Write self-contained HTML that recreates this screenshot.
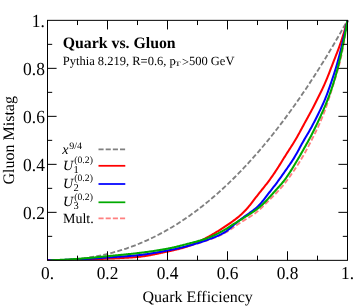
<!DOCTYPE html>
<html><head><meta charset="utf-8"><title>Quark vs. Gluon</title>
<style>
html,body{margin:0;padding:0;background:#fff;}
body{width:354px;height:306px;overflow:hidden;}
svg{display:block;font-family:"Liberation Serif",serif;text-rendering:geometricPrecision;will-change:transform;}
</style></head><body>
<svg width="354" height="306" viewBox="0 0 354 306">
<rect width="354" height="306" fill="#fff"/>
<clipPath id="c"><rect x="46.3" y="18.85" width="302.4" height="241.50"/></clipPath>
<g fill="none" stroke-linejoin="round" clip-path="url(#c)">
<path d="M47.50 260.35 L48.25 260.33 L49.00 260.32 L49.75 260.30 L50.50 260.28 L51.25 260.26 L52.00 260.24 L52.75 260.23 L53.50 260.21 L54.25 260.19 L55.00 260.17 L55.75 260.15 L56.50 260.13 L57.25 260.10 L58.00 260.08 L58.75 260.06 L59.50 260.04 L60.25 260.01 L61.00 259.99 L61.75 259.97 L62.50 259.94 L63.25 259.92 L64.00 259.89 L64.75 259.87 L65.50 259.84 L66.25 259.82 L67.00 259.79 L67.75 259.76 L68.50 259.74 L69.25 259.71 L70.00 259.68 L70.75 259.65 L71.50 259.62 L72.25 259.59 L73.00 259.57 L73.75 259.54 L74.50 259.51 L75.25 259.48 L76.00 259.45 L76.75 259.42 L77.50 259.38 L78.25 259.35 L79.00 259.32 L79.75 259.29 L80.50 259.25 L81.25 259.22 L82.00 259.18 L82.75 259.15 L83.50 259.11 L84.25 259.07 L85.00 259.04 L85.75 259.00 L86.50 258.96 L87.25 258.92 L88.00 258.88 L88.75 258.84 L89.50 258.80 L90.25 258.76 L91.00 258.71 L91.75 258.67 L92.50 258.63 L93.25 258.59 L94.00 258.54 L94.75 258.50 L95.50 258.45 L96.25 258.41 L97.00 258.36 L97.75 258.32 L98.50 258.27 L99.25 258.23 L100.00 258.18 L100.75 258.13 L101.50 258.09 L102.25 258.04 L103.00 257.99 L103.75 257.95 L104.50 257.90 L105.25 257.85 L106.00 257.80 L106.75 257.76 L107.50 257.71 L108.25 257.66 L109.00 257.62 L109.75 257.57 L110.50 257.52 L111.25 257.48 L112.00 257.43 L112.75 257.38 L113.50 257.34 L114.25 257.29 L115.00 257.24 L115.75 257.20 L116.50 257.15 L117.25 257.10 L118.00 257.05 L118.75 257.01 L119.50 256.96 L120.25 256.91 L121.00 256.86 L121.75 256.81 L122.50 256.76 L123.25 256.71 L124.00 256.65 L124.75 256.60 L125.50 256.55 L126.25 256.49 L127.00 256.44 L127.75 256.38 L128.50 256.32 L129.25 256.26 L130.00 256.20 L130.75 256.14 L131.50 256.08 L132.25 256.02 L133.00 255.95 L133.75 255.88 L134.50 255.82 L135.25 255.75 L136.00 255.67 L136.75 255.60 L137.50 255.52 L138.25 255.44 L139.00 255.36 L139.75 255.28 L140.50 255.19 L141.25 255.10 L142.00 255.01 L142.75 254.92 L143.50 254.82 L144.25 254.72 L145.00 254.62 L145.75 254.51 L146.50 254.40 L147.25 254.29 L148.00 254.18 L148.75 254.07 L149.50 253.95 L150.25 253.83 L151.00 253.71 L151.75 253.59 L152.50 253.46 L153.25 253.34 L154.00 253.21 L154.75 253.08 L155.50 252.95 L156.25 252.82 L157.00 252.69 L157.75 252.55 L158.50 252.42 L159.25 252.28 L160.00 252.14 L160.75 252.01 L161.50 251.87 L162.25 251.73 L163.00 251.59 L163.75 251.45 L164.50 251.31 L165.25 251.17 L166.00 251.03 L166.75 250.88 L167.50 250.74 L168.25 250.59 L169.00 250.45 L169.75 250.30 L170.50 250.15 L171.25 250.00 L172.00 249.85 L172.75 249.69 L173.50 249.54 L174.25 249.38 L175.00 249.22 L175.75 249.06 L176.50 248.89 L177.25 248.73 L178.00 248.56 L178.75 248.39 L179.50 248.22 L180.25 248.05 L181.00 247.87 L181.75 247.70 L182.50 247.52 L183.25 247.34 L184.00 247.16 L184.75 246.97 L185.50 246.79 L186.25 246.60 L187.00 246.41 L187.75 246.22 L188.50 246.02 L189.25 245.83 L190.00 245.63 L190.75 245.43 L191.50 245.23 L192.25 245.02 L193.00 244.82 L193.75 244.61 L194.50 244.40 L195.25 244.18 L196.00 243.97 L196.75 243.75 L197.50 243.53 L198.25 243.30 L199.00 243.07 L199.75 242.84 L200.50 242.61 L201.25 242.38 L202.00 242.14 L202.75 241.89 L203.50 241.65 L204.25 241.40 L205.00 241.15 L205.75 240.90 L206.50 240.64 L207.25 240.38 L208.00 240.12 L208.75 239.85 L209.50 239.58 L210.25 239.31 L211.00 239.04 L211.75 238.76 L212.50 238.48 L213.25 238.19 L214.00 237.90 L214.75 237.61 L215.50 237.31 L216.25 237.00 L217.00 236.69 L217.75 236.38 L218.50 236.05 L219.25 235.72 L220.00 235.39 L220.75 235.04 L221.50 234.69 L222.25 234.32 L223.00 233.95 L223.75 233.56 L224.50 233.16 L225.25 232.75 L226.00 232.32 L226.75 231.88 L227.50 231.42 L228.25 230.95 L229.00 230.46 L229.75 229.96 L230.50 229.46 L231.25 228.94 L232.00 228.42 L232.75 227.89 L233.50 227.37 L234.25 226.84 L235.00 226.32 L235.75 225.80 L236.50 225.28 L237.25 224.77 L238.00 224.26 L238.75 223.76 L239.50 223.27 L240.25 222.78 L241.00 222.29 L241.75 221.81 L242.50 221.34 L243.25 220.87 L244.00 220.40 L244.75 219.94 L245.50 219.49 L246.25 219.03 L247.00 218.58 L247.75 218.13 L248.50 217.68 L249.25 217.22 L250.00 216.76 L250.75 216.30 L251.50 215.82 L252.25 215.33 L253.00 214.83 L253.75 214.31 L254.50 213.77 L255.25 213.21 L256.00 212.62 L256.75 212.02 L257.50 211.40 L258.25 210.75 L259.00 210.09 L259.75 209.41 L260.50 208.71 L261.25 208.00 L262.00 207.28 L262.75 206.55 L263.50 205.81 L264.25 205.06 L265.00 204.30 L265.75 203.54 L266.50 202.78 L267.25 202.02 L268.00 201.26 L268.75 200.50 L269.50 199.74 L270.25 198.99 L271.00 198.24 L271.75 197.50 L272.50 196.76 L273.25 196.02 L274.00 195.27 L274.75 194.52 L275.50 193.77 L276.25 193.01 L277.00 192.24 L277.75 191.45 L278.50 190.66 L279.25 189.85 L280.00 189.02 L280.75 188.18 L281.50 187.32 L282.25 186.45 L283.00 185.55 L283.75 184.64 L284.50 183.71 L285.25 182.76 L286.00 181.79 L286.75 180.80 L287.50 179.80 L288.25 178.78 L289.00 177.75 L289.75 176.70 L290.50 175.64 L291.25 174.57 L292.00 173.48 L292.75 172.39 L293.50 171.28 L294.25 170.15 L295.00 169.02 L295.75 167.88 L296.50 166.72 L297.25 165.56 L298.00 164.38 L298.75 163.20 L299.50 162.00 L300.25 160.80 L301.00 159.57 L301.75 158.33 L302.50 157.08 L303.25 155.80 L304.00 154.49 L304.75 153.16 L305.50 151.81 L306.25 150.42 L307.00 149.02 L307.75 147.59 L308.50 146.14 L309.25 144.68 L310.00 143.21 L310.75 141.73 L311.50 140.24 L312.25 138.76 L313.00 137.27 L313.75 135.77 L314.50 134.28 L315.25 132.77 L316.00 131.25 L316.75 129.70 L317.50 128.13 L318.25 126.52 L319.00 124.87 L319.75 123.18 L320.50 121.45 L321.25 119.67 L322.00 117.84 L322.75 115.97 L323.50 114.04 L324.25 112.07 L325.00 110.06 L325.75 107.99 L326.50 105.87 L327.25 103.70 L328.00 101.49 L328.75 99.22 L329.50 96.91 L330.25 94.57 L331.00 92.19 L331.75 89.79 L332.50 87.38 L333.25 84.96 L334.00 82.54 L334.75 80.12 L335.50 77.69 L336.25 75.24 L337.00 72.75 L337.75 70.20 L338.50 67.55 L339.25 64.76 L340.00 61.81 L340.75 58.66 L341.50 55.29 L342.25 51.67 L343.00 47.80 L343.75 43.69 L344.50 39.34 L345.25 34.79 L346.00 30.07 L346.75 25.24 L347.50 20.35" stroke="#ff8080" stroke-width="1.85" stroke-dasharray="5 2.2"/>
<path d="M47.50 260.35 L49.00 260.35 L50.50 260.34 L52.00 260.33 L53.50 260.31 L55.00 260.29 L56.50 260.26 L58.00 260.22 L59.50 260.18 L61.00 260.13 L62.50 260.07 L64.00 260.00 L65.50 259.92 L67.00 259.84 L68.50 259.75 L70.00 259.64 L71.50 259.53 L73.00 259.41 L74.50 259.29 L76.00 259.15 L77.50 259.00 L79.00 258.84 L80.50 258.68 L82.00 258.50 L83.50 258.32 L85.00 258.12 L86.50 257.91 L88.00 257.70 L89.50 257.47 L91.00 257.24 L92.50 256.99 L94.00 256.73 L95.50 256.46 L97.00 256.19 L98.50 255.90 L100.00 255.60 L101.50 255.29 L103.00 254.96 L104.50 254.63 L106.00 254.29 L107.50 253.93 L109.00 253.56 L110.50 253.19 L112.00 252.80 L113.50 252.39 L115.00 251.98 L116.50 251.56 L118.00 251.12 L119.50 250.67 L121.00 250.21 L122.50 249.74 L124.00 249.26 L125.50 248.76 L127.00 248.26 L128.50 247.74 L130.00 247.21 L131.50 246.66 L133.00 246.11 L134.50 245.54 L136.00 244.96 L137.50 244.36 L139.00 243.76 L140.50 243.14 L142.00 242.51 L143.50 241.87 L145.00 241.21 L146.50 240.54 L148.00 239.86 L149.50 239.16 L151.00 238.46 L152.50 237.74 L154.00 237.00 L155.50 236.26 L157.00 235.50 L158.50 234.72 L160.00 233.94 L161.50 233.14 L163.00 232.33 L164.50 231.50 L166.00 230.66 L167.50 229.81 L169.00 228.95 L170.50 228.07 L172.00 227.17 L173.50 226.27 L175.00 225.35 L176.50 224.42 L178.00 223.47 L179.50 222.51 L181.00 221.53 L182.50 220.54 L184.00 219.54 L185.50 218.53 L187.00 217.50 L188.50 216.45 L190.00 215.40 L191.50 214.32 L193.00 213.24 L194.50 212.14 L196.00 211.02 L197.50 209.90 L199.00 208.75 L200.50 207.60 L202.00 206.43 L203.50 205.24 L205.00 204.04 L206.50 202.83 L208.00 201.60 L209.50 200.36 L211.00 199.10 L212.50 197.83 L214.00 196.54 L215.50 195.24 L217.00 193.93 L218.50 192.60 L220.00 191.25 L221.50 189.89 L223.00 188.52 L224.50 187.13 L226.00 185.73 L227.50 184.31 L229.00 182.88 L230.50 181.43 L232.00 179.96 L233.50 178.49 L235.00 176.99 L236.50 175.49 L238.00 173.96 L239.50 172.42 L241.00 170.87 L242.50 169.30 L244.00 167.72 L245.50 166.12 L247.00 164.51 L248.50 162.88 L250.00 161.23 L251.50 159.57 L253.00 157.90 L254.50 156.21 L256.00 154.50 L257.50 152.78 L259.00 151.05 L260.50 149.29 L262.00 147.53 L263.50 145.74 L265.00 143.94 L266.50 142.13 L268.00 140.30 L269.50 138.46 L271.00 136.59 L272.50 134.72 L274.00 132.83 L275.50 130.92 L277.00 128.99 L278.50 127.05 L280.00 125.10 L281.50 123.13 L283.00 121.14 L284.50 119.14 L286.00 117.12 L287.50 115.08 L289.00 113.03 L290.50 110.97 L292.00 108.88 L293.50 106.78 L295.00 104.67 L296.50 102.54 L298.00 100.39 L299.50 98.23 L301.00 96.05 L302.50 93.85 L304.00 91.64 L305.50 89.41 L307.00 87.17 L308.50 84.91 L310.00 82.63 L311.50 80.34 L313.00 78.03 L314.50 75.70 L316.00 73.36 L317.50 71.00 L319.00 68.63 L320.50 66.24 L322.00 63.83 L323.50 61.40 L325.00 58.96 L326.50 56.51 L328.00 54.03 L329.50 51.54 L331.00 49.03 L332.50 46.51 L334.00 43.97 L335.50 41.41 L337.00 38.84 L338.50 36.25 L340.00 33.64 L341.50 31.02 L343.00 28.37 L344.50 25.72 L346.00 23.04 L347.50 20.35" stroke="#808080" stroke-width="1.85" stroke-dasharray="5 2.23" stroke-dashoffset="1.68"/>
<path d="M47.50 260.35 L48.25 260.34 L49.00 260.34 L49.75 260.33 L50.50 260.33 L51.25 260.32 L52.00 260.32 L52.75 260.31 L53.50 260.30 L54.25 260.29 L55.00 260.28 L55.75 260.28 L56.50 260.27 L57.25 260.26 L58.00 260.25 L58.75 260.24 L59.50 260.22 L60.25 260.21 L61.00 260.20 L61.75 260.19 L62.50 260.18 L63.25 260.16 L64.00 260.15 L64.75 260.14 L65.50 260.12 L66.25 260.11 L67.00 260.09 L67.75 260.08 L68.50 260.06 L69.25 260.05 L70.00 260.03 L70.75 260.02 L71.50 260.00 L72.25 259.99 L73.00 259.97 L73.75 259.95 L74.50 259.94 L75.25 259.92 L76.00 259.90 L76.75 259.88 L77.50 259.86 L78.25 259.84 L79.00 259.83 L79.75 259.81 L80.50 259.78 L81.25 259.76 L82.00 259.74 L82.75 259.72 L83.50 259.69 L84.25 259.67 L85.00 259.64 L85.75 259.62 L86.50 259.59 L87.25 259.56 L88.00 259.53 L88.75 259.51 L89.50 259.48 L90.25 259.45 L91.00 259.42 L91.75 259.39 L92.50 259.35 L93.25 259.32 L94.00 259.29 L94.75 259.26 L95.50 259.22 L96.25 259.19 L97.00 259.16 L97.75 259.12 L98.50 259.09 L99.25 259.06 L100.00 259.02 L100.75 258.99 L101.50 258.95 L102.25 258.92 L103.00 258.88 L103.75 258.85 L104.50 258.81 L105.25 258.78 L106.00 258.74 L106.75 258.71 L107.50 258.67 L108.25 258.64 L109.00 258.60 L109.75 258.57 L110.50 258.53 L111.25 258.50 L112.00 258.47 L112.75 258.43 L113.50 258.40 L114.25 258.36 L115.00 258.33 L115.75 258.29 L116.50 258.26 L117.25 258.22 L118.00 258.19 L118.75 258.15 L119.50 258.12 L120.25 258.08 L121.00 258.04 L121.75 258.01 L122.50 257.97 L123.25 257.93 L124.00 257.89 L124.75 257.85 L125.50 257.81 L126.25 257.76 L127.00 257.72 L127.75 257.67 L128.50 257.63 L129.25 257.58 L130.00 257.53 L130.75 257.48 L131.50 257.43 L132.25 257.38 L133.00 257.32 L133.75 257.27 L134.50 257.21 L135.25 257.15 L136.00 257.08 L136.75 257.02 L137.50 256.95 L138.25 256.87 L139.00 256.80 L139.75 256.72 L140.50 256.63 L141.25 256.54 L142.00 256.45 L142.75 256.35 L143.50 256.25 L144.25 256.14 L145.00 256.03 L145.75 255.91 L146.50 255.79 L147.25 255.67 L148.00 255.54 L148.75 255.41 L149.50 255.28 L150.25 255.14 L151.00 255.00 L151.75 254.86 L152.50 254.72 L153.25 254.57 L154.00 254.42 L154.75 254.27 L155.50 254.11 L156.25 253.96 L157.00 253.80 L157.75 253.64 L158.50 253.48 L159.25 253.32 L160.00 253.16 L160.75 253.00 L161.50 252.84 L162.25 252.68 L163.00 252.52 L163.75 252.35 L164.50 252.19 L165.25 252.03 L166.00 251.87 L166.75 251.70 L167.50 251.54 L168.25 251.38 L169.00 251.22 L169.75 251.05 L170.50 250.89 L171.25 250.72 L172.00 250.56 L172.75 250.39 L173.50 250.22 L174.25 250.05 L175.00 249.87 L175.75 249.70 L176.50 249.52 L177.25 249.34 L178.00 249.15 L178.75 248.96 L179.50 248.77 L180.25 248.58 L181.00 248.38 L181.75 248.17 L182.50 247.96 L183.25 247.75 L184.00 247.52 L184.75 247.30 L185.50 247.06 L186.25 246.82 L187.00 246.58 L187.75 246.32 L188.50 246.06 L189.25 245.79 L190.00 245.51 L190.75 245.22 L191.50 244.93 L192.25 244.62 L193.00 244.31 L193.75 243.99 L194.50 243.66 L195.25 243.33 L196.00 242.99 L196.75 242.64 L197.50 242.29 L198.25 241.93 L199.00 241.57 L199.75 241.20 L200.50 240.83 L201.25 240.46 L202.00 240.08 L202.75 239.70 L203.50 239.32 L204.25 238.93 L205.00 238.54 L205.75 238.15 L206.50 237.75 L207.25 237.35 L208.00 236.95 L208.75 236.54 L209.50 236.12 L210.25 235.71 L211.00 235.28 L211.75 234.86 L212.50 234.43 L213.25 233.99 L214.00 233.55 L214.75 233.10 L215.50 232.65 L216.25 232.20 L217.00 231.74 L217.75 231.28 L218.50 230.82 L219.25 230.35 L220.00 229.87 L220.75 229.40 L221.50 228.92 L222.25 228.43 L223.00 227.95 L223.75 227.46 L224.50 226.96 L225.25 226.46 L226.00 225.96 L226.75 225.45 L227.50 224.94 L228.25 224.42 L229.00 223.90 L229.75 223.37 L230.50 222.84 L231.25 222.31 L232.00 221.77 L232.75 221.23 L233.50 220.68 L234.25 220.13 L235.00 219.57 L235.75 219.01 L236.50 218.43 L237.25 217.85 L238.00 217.25 L238.75 216.63 L239.50 216.00 L240.25 215.34 L241.00 214.68 L241.75 213.99 L242.50 213.28 L243.25 212.56 L244.00 211.81 L244.75 211.05 L245.50 210.26 L246.25 209.45 L247.00 208.62 L247.75 207.76 L248.50 206.88 L249.25 205.97 L250.00 205.03 L250.75 204.08 L251.50 203.12 L252.25 202.14 L253.00 201.16 L253.75 200.17 L254.50 199.19 L255.25 198.21 L256.00 197.24 L256.75 196.27 L257.50 195.32 L258.25 194.37 L259.00 193.42 L259.75 192.48 L260.50 191.54 L261.25 190.61 L262.00 189.67 L262.75 188.74 L263.50 187.80 L264.25 186.87 L265.00 185.92 L265.75 184.97 L266.50 184.01 L267.25 183.03 L268.00 182.04 L268.75 181.04 L269.50 180.03 L270.25 179.00 L271.00 177.96 L271.75 176.90 L272.50 175.84 L273.25 174.76 L274.00 173.66 L274.75 172.56 L275.50 171.43 L276.25 170.29 L277.00 169.14 L277.75 167.97 L278.50 166.78 L279.25 165.59 L280.00 164.38 L280.75 163.17 L281.50 161.95 L282.25 160.74 L283.00 159.52 L283.75 158.32 L284.50 157.12 L285.25 155.93 L286.00 154.74 L286.75 153.56 L287.50 152.39 L288.25 151.22 L289.00 150.06 L289.75 148.89 L290.50 147.73 L291.25 146.56 L292.00 145.38 L292.75 144.19 L293.50 142.99 L294.25 141.77 L295.00 140.54 L295.75 139.28 L296.50 137.99 L297.25 136.69 L298.00 135.36 L298.75 134.00 L299.50 132.63 L300.25 131.25 L301.00 129.85 L301.75 128.45 L302.50 127.05 L303.25 125.65 L304.00 124.26 L304.75 122.88 L305.50 121.50 L306.25 120.14 L307.00 118.78 L307.75 117.43 L308.50 116.07 L309.25 114.71 L310.00 113.33 L310.75 111.95 L311.50 110.54 L312.25 109.12 L313.00 107.68 L313.75 106.23 L314.50 104.76 L315.25 103.27 L316.00 101.78 L316.75 100.29 L317.50 98.79 L318.25 97.29 L319.00 95.79 L319.75 94.28 L320.50 92.77 L321.25 91.24 L322.00 89.70 L322.75 88.12 L323.50 86.52 L324.25 84.87 L325.00 83.18 L325.75 81.44 L326.50 79.65 L327.25 77.82 L328.00 75.95 L328.75 74.05 L329.50 72.12 L330.25 70.17 L331.00 68.22 L331.75 66.27 L332.50 64.33 L333.25 62.39 L334.00 60.47 L334.75 58.56 L335.50 56.64 L336.25 54.73 L337.00 52.79 L337.75 50.83 L338.50 48.84 L339.25 46.79 L340.00 44.69 L340.75 42.53 L341.50 40.30 L342.25 38.00 L343.00 35.63 L343.75 33.20 L344.50 30.71 L345.25 28.16 L346.00 25.58 L346.75 22.97 L347.50 20.35" stroke="#ff0000" stroke-width="2.05"/>
<path d="M47.50 260.35 L48.25 260.34 L49.00 260.32 L49.75 260.30 L50.50 260.29 L51.25 260.27 L52.00 260.26 L52.75 260.24 L53.50 260.22 L54.25 260.20 L55.00 260.19 L55.75 260.17 L56.50 260.15 L57.25 260.12 L58.00 260.10 L58.75 260.08 L59.50 260.06 L60.25 260.04 L61.00 260.01 L61.75 259.99 L62.50 259.96 L63.25 259.94 L64.00 259.91 L64.75 259.89 L65.50 259.86 L66.25 259.83 L67.00 259.81 L67.75 259.78 L68.50 259.75 L69.25 259.72 L70.00 259.69 L70.75 259.66 L71.50 259.63 L72.25 259.60 L73.00 259.57 L73.75 259.54 L74.50 259.51 L75.25 259.48 L76.00 259.45 L76.75 259.41 L77.50 259.38 L78.25 259.35 L79.00 259.31 L79.75 259.28 L80.50 259.24 L81.25 259.20 L82.00 259.16 L82.75 259.12 L83.50 259.08 L84.25 259.04 L85.00 258.99 L85.75 258.95 L86.50 258.91 L87.25 258.86 L88.00 258.81 L88.75 258.77 L89.50 258.72 L90.25 258.67 L91.00 258.62 L91.75 258.57 L92.50 258.52 L93.25 258.47 L94.00 258.42 L94.75 258.36 L95.50 258.31 L96.25 258.26 L97.00 258.21 L97.75 258.15 L98.50 258.10 L99.25 258.05 L100.00 258.00 L100.75 257.94 L101.50 257.89 L102.25 257.84 L103.00 257.79 L103.75 257.73 L104.50 257.68 L105.25 257.63 L106.00 257.58 L106.75 257.53 L107.50 257.48 L108.25 257.43 L109.00 257.38 L109.75 257.33 L110.50 257.28 L111.25 257.23 L112.00 257.18 L112.75 257.13 L113.50 257.08 L114.25 257.03 L115.00 256.99 L115.75 256.94 L116.50 256.89 L117.25 256.84 L118.00 256.80 L118.75 256.75 L119.50 256.70 L120.25 256.65 L121.00 256.60 L121.75 256.55 L122.50 256.50 L123.25 256.45 L124.00 256.40 L124.75 256.35 L125.50 256.29 L126.25 256.24 L127.00 256.19 L127.75 256.13 L128.50 256.07 L129.25 256.02 L130.00 255.96 L130.75 255.90 L131.50 255.83 L132.25 255.77 L133.00 255.71 L133.75 255.64 L134.50 255.57 L135.25 255.50 L136.00 255.43 L136.75 255.36 L137.50 255.28 L138.25 255.20 L139.00 255.12 L139.75 255.04 L140.50 254.95 L141.25 254.86 L142.00 254.77 L142.75 254.68 L143.50 254.58 L144.25 254.48 L145.00 254.38 L145.75 254.27 L146.50 254.16 L147.25 254.05 L148.00 253.94 L148.75 253.83 L149.50 253.71 L150.25 253.59 L151.00 253.47 L151.75 253.35 L152.50 253.22 L153.25 253.10 L154.00 252.97 L154.75 252.84 L155.50 252.71 L156.25 252.58 L157.00 252.45 L157.75 252.31 L158.50 252.18 L159.25 252.04 L160.00 251.90 L160.75 251.77 L161.50 251.63 L162.25 251.49 L163.00 251.35 L163.75 251.21 L164.50 251.07 L165.25 250.93 L166.00 250.79 L166.75 250.64 L167.50 250.50 L168.25 250.35 L169.00 250.21 L169.75 250.06 L170.50 249.91 L171.25 249.76 L172.00 249.61 L172.75 249.46 L173.50 249.30 L174.25 249.14 L175.00 248.99 L175.75 248.82 L176.50 248.66 L177.25 248.50 L178.00 248.33 L178.75 248.16 L179.50 247.99 L180.25 247.82 L181.00 247.64 L181.75 247.46 L182.50 247.29 L183.25 247.10 L184.00 246.92 L184.75 246.73 L185.50 246.55 L186.25 246.35 L187.00 246.16 L187.75 245.97 L188.50 245.77 L189.25 245.57 L190.00 245.36 L190.75 245.16 L191.50 244.95 L192.25 244.74 L193.00 244.52 L193.75 244.31 L194.50 244.09 L195.25 243.86 L196.00 243.64 L196.75 243.41 L197.50 243.18 L198.25 242.94 L199.00 242.71 L199.75 242.46 L200.50 242.22 L201.25 241.97 L202.00 241.72 L202.75 241.47 L203.50 241.22 L204.25 240.96 L205.00 240.70 L205.75 240.44 L206.50 240.17 L207.25 239.91 L208.00 239.64 L208.75 239.37 L209.50 239.10 L210.25 238.82 L211.00 238.54 L211.75 238.26 L212.50 237.98 L213.25 237.69 L214.00 237.40 L214.75 237.10 L215.50 236.80 L216.25 236.49 L217.00 236.17 L217.75 235.85 L218.50 235.52 L219.25 235.17 L220.00 234.82 L220.75 234.45 L221.50 234.07 L222.25 233.68 L223.00 233.26 L223.75 232.83 L224.50 232.38 L225.25 231.90 L226.00 231.40 L226.75 230.87 L227.50 230.31 L228.25 229.73 L229.00 229.13 L229.75 228.51 L230.50 227.87 L231.25 227.22 L232.00 226.57 L232.75 225.91 L233.50 225.25 L234.25 224.60 L235.00 223.96 L235.75 223.33 L236.50 222.71 L237.25 222.09 L238.00 221.49 L238.75 220.90 L239.50 220.31 L240.25 219.73 L241.00 219.17 L241.75 218.60 L242.50 218.05 L243.25 217.50 L244.00 216.95 L244.75 216.41 L245.50 215.87 L246.25 215.34 L247.00 214.81 L247.75 214.28 L248.50 213.75 L249.25 213.21 L250.00 212.68 L250.75 212.14 L251.50 211.60 L252.25 211.05 L253.00 210.49 L253.75 209.92 L254.50 209.33 L255.25 208.72 L256.00 208.10 L256.75 207.44 L257.50 206.75 L258.25 206.04 L259.00 205.28 L259.75 204.50 L260.50 203.67 L261.25 202.81 L262.00 201.92 L262.75 201.00 L263.50 200.06 L264.25 199.10 L265.00 198.12 L265.75 197.14 L266.50 196.15 L267.25 195.17 L268.00 194.19 L268.75 193.22 L269.50 192.25 L270.25 191.29 L271.00 190.33 L271.75 189.37 L272.50 188.42 L273.25 187.46 L274.00 186.49 L274.75 185.51 L275.50 184.53 L276.25 183.53 L277.00 182.52 L277.75 181.50 L278.50 180.47 L279.25 179.43 L280.00 178.38 L280.75 177.33 L281.50 176.28 L282.25 175.21 L283.00 174.15 L283.75 173.09 L284.50 172.02 L285.25 170.96 L286.00 169.89 L286.75 168.83 L287.50 167.76 L288.25 166.69 L289.00 165.61 L289.75 164.52 L290.50 163.42 L291.25 162.31 L292.00 161.17 L292.75 160.01 L293.50 158.83 L294.25 157.61 L295.00 156.35 L295.75 155.07 L296.50 153.75 L297.25 152.40 L298.00 151.03 L298.75 149.65 L299.50 148.25 L300.25 146.86 L301.00 145.48 L301.75 144.11 L302.50 142.77 L303.25 141.44 L304.00 140.13 L304.75 138.85 L305.50 137.57 L306.25 136.30 L307.00 135.04 L307.75 133.76 L308.50 132.48 L309.25 131.18 L310.00 129.86 L310.75 128.51 L311.50 127.14 L312.25 125.75 L313.00 124.33 L313.75 122.88 L314.50 121.42 L315.25 119.94 L316.00 118.46 L316.75 116.96 L317.50 115.45 L318.25 113.94 L319.00 112.41 L319.75 110.88 L320.50 109.33 L321.25 107.75 L322.00 106.15 L322.75 104.50 L323.50 102.82 L324.25 101.09 L325.00 99.30 L325.75 97.45 L326.50 95.54 L327.25 93.57 L328.00 91.55 L328.75 89.47 L329.50 87.35 L330.25 85.19 L331.00 82.99 L331.75 80.77 L332.50 78.53 L333.25 76.26 L334.00 73.95 L334.75 71.60 L335.50 69.20 L336.25 66.73 L337.00 64.18 L337.75 61.55 L338.50 58.83 L339.25 56.00 L340.00 53.09 L340.75 50.08 L341.50 46.99 L342.25 43.82 L343.00 40.58 L343.75 37.29 L344.50 33.96 L345.25 30.58 L346.00 27.19 L346.75 23.77 L347.50 20.35" stroke="#0000ff" stroke-width="2.05"/>
<path d="M50.50 260.25 L51.25 260.23 L52.00 260.20 L52.75 260.18 L53.50 260.15 L54.25 260.12 L55.00 260.09 L55.75 260.06 L56.50 260.03 L57.25 260.00 L58.00 259.97 L58.75 259.94 L59.50 259.90 L60.25 259.87 L61.00 259.83 L61.75 259.80 L62.50 259.76 L63.25 259.72 L64.00 259.69 L64.75 259.65 L65.50 259.61 L66.25 259.57 L67.00 259.53 L67.75 259.49 L68.50 259.44 L69.25 259.40 L70.00 259.36 L70.75 259.32 L71.50 259.27 L72.25 259.23 L73.00 259.18 L73.75 259.14 L74.50 259.09 L75.25 259.04 L76.00 259.00 L76.75 258.95 L77.50 258.90 L78.25 258.85 L79.00 258.79 L79.75 258.74 L80.50 258.69 L81.25 258.63 L82.00 258.57 L82.75 258.52 L83.50 258.46 L84.25 258.39 L85.00 258.33 L85.75 258.27 L86.50 258.20 L87.25 258.14 L88.00 258.07 L88.75 258.00 L89.50 257.93 L90.25 257.86 L91.00 257.79 L91.75 257.72 L92.50 257.65 L93.25 257.57 L94.00 257.50 L94.75 257.42 L95.50 257.35 L96.25 257.28 L97.00 257.20 L97.75 257.12 L98.50 257.05 L99.25 256.97 L100.00 256.90 L100.75 256.82 L101.50 256.75 L102.25 256.67 L103.00 256.60 L103.75 256.52 L104.50 256.45 L105.25 256.37 L106.00 256.30 L106.75 256.23 L107.50 256.16 L108.25 256.08 L109.00 256.01 L109.75 255.94 L110.50 255.87 L111.25 255.80 L112.00 255.73 L112.75 255.66 L113.50 255.59 L114.25 255.52 L115.00 255.44 L115.75 255.37 L116.50 255.30 L117.25 255.23 L118.00 255.16 L118.75 255.09 L119.50 255.02 L120.25 254.95 L121.00 254.88 L121.75 254.81 L122.50 254.73 L123.25 254.66 L124.00 254.59 L124.75 254.51 L125.50 254.44 L126.25 254.36 L127.00 254.29 L127.75 254.21 L128.50 254.13 L129.25 254.06 L130.00 253.98 L130.75 253.90 L131.50 253.82 L132.25 253.74 L133.00 253.65 L133.75 253.57 L134.50 253.49 L135.25 253.40 L136.00 253.31 L136.75 253.23 L137.50 253.14 L138.25 253.05 L139.00 252.96 L139.75 252.87 L140.50 252.78 L141.25 252.68 L142.00 252.59 L142.75 252.49 L143.50 252.40 L144.25 252.30 L145.00 252.20 L145.75 252.10 L146.50 252.00 L147.25 251.90 L148.00 251.80 L148.75 251.70 L149.50 251.59 L150.25 251.49 L151.00 251.38 L151.75 251.28 L152.50 251.17 L153.25 251.06 L154.00 250.94 L154.75 250.83 L155.50 250.72 L156.25 250.60 L157.00 250.49 L157.75 250.37 L158.50 250.25 L159.25 250.13 L160.00 250.00 L160.75 249.88 L161.50 249.75 L162.25 249.63 L163.00 249.50 L163.75 249.37 L164.50 249.23 L165.25 249.10 L166.00 248.96 L166.75 248.82 L167.50 248.67 L168.25 248.53 L169.00 248.38 L169.75 248.23 L170.50 248.07 L171.25 247.91 L172.00 247.75 L172.75 247.58 L173.50 247.41 L174.25 247.24 L175.00 247.07 L175.75 246.89 L176.50 246.71 L177.25 246.52 L178.00 246.34 L178.75 246.15 L179.50 245.97 L180.25 245.78 L181.00 245.58 L181.75 245.39 L182.50 245.20 L183.25 245.01 L184.00 244.81 L184.75 244.62 L185.50 244.42 L186.25 244.23 L187.00 244.04 L187.75 243.84 L188.50 243.65 L189.25 243.45 L190.00 243.26 L190.75 243.06 L191.50 242.87 L192.25 242.67 L193.00 242.48 L193.75 242.28 L194.50 242.08 L195.25 241.88 L196.00 241.68 L196.75 241.47 L197.50 241.26 L198.25 241.05 L199.00 240.84 L199.75 240.62 L200.50 240.39 L201.25 240.17 L202.00 239.94 L202.75 239.70 L203.50 239.46 L204.25 239.21 L205.00 238.95 L205.75 238.69 L206.50 238.43 L207.25 238.15 L208.00 237.87 L208.75 237.58 L209.50 237.29 L210.25 236.98 L211.00 236.67 L211.75 236.36 L212.50 236.03 L213.25 235.70 L214.00 235.36 L214.75 235.01 L215.50 234.66 L216.25 234.30 L217.00 233.94 L217.75 233.57 L218.50 233.19 L219.25 232.80 L220.00 232.41 L220.75 232.02 L221.50 231.61 L222.25 231.20 L223.00 230.78 L223.75 230.35 L224.50 229.92 L225.25 229.47 L226.00 229.02 L226.75 228.55 L227.50 228.08 L228.25 227.61 L229.00 227.12 L229.75 226.64 L230.50 226.15 L231.25 225.66 L232.00 225.17 L232.75 224.68 L233.50 224.20 L234.25 223.73 L235.00 223.25 L235.75 222.79 L236.50 222.32 L237.25 221.86 L238.00 221.40 L238.75 220.94 L239.50 220.48 L240.25 220.02 L241.00 219.56 L241.75 219.09 L242.50 218.63 L243.25 218.16 L244.00 217.68 L244.75 217.21 L245.50 216.73 L246.25 216.25 L247.00 215.77 L247.75 215.29 L248.50 214.81 L249.25 214.33 L250.00 213.85 L250.75 213.37 L251.50 212.88 L252.25 212.39 L253.00 211.89 L253.75 211.39 L254.50 210.87 L255.25 210.34 L256.00 209.80 L256.75 209.25 L257.50 208.67 L258.25 208.09 L259.00 207.49 L259.75 206.87 L260.50 206.23 L261.25 205.58 L262.00 204.91 L262.75 204.22 L263.50 203.51 L264.25 202.78 L265.00 202.03 L265.75 201.26 L266.50 200.47 L267.25 199.67 L268.00 198.85 L268.75 198.03 L269.50 197.19 L270.25 196.35 L271.00 195.51 L271.75 194.66 L272.50 193.82 L273.25 192.99 L274.00 192.15 L274.75 191.33 L275.50 190.50 L276.25 189.68 L277.00 188.87 L277.75 188.04 L278.50 187.22 L279.25 186.38 L280.00 185.54 L280.75 184.68 L281.50 183.80 L282.25 182.91 L283.00 181.99 L283.75 181.04 L284.50 180.07 L285.25 179.08 L286.00 178.05 L286.75 176.99 L287.50 175.91 L288.25 174.80 L289.00 173.67 L289.75 172.51 L290.50 171.33 L291.25 170.14 L292.00 168.93 L292.75 167.71 L293.50 166.48 L294.25 165.25 L295.00 164.01 L295.75 162.76 L296.50 161.51 L297.25 160.26 L298.00 159.00 L298.75 157.73 L299.50 156.45 L300.25 155.16 L301.00 153.87 L301.75 152.57 L302.50 151.26 L303.25 149.94 L304.00 148.61 L304.75 147.29 L305.50 145.95 L306.25 144.62 L307.00 143.27 L307.75 141.92 L308.50 140.56 L309.25 139.19 L310.00 137.80 L310.75 136.40 L311.50 134.98 L312.25 133.53 L313.00 132.07 L313.75 130.58 L314.50 129.07 L315.25 127.55 L316.00 126.00 L316.75 124.43 L317.50 122.85 L318.25 121.24 L319.00 119.62 L319.75 117.99 L320.50 116.33 L321.25 114.67 L322.00 112.99 L322.75 111.29 L323.50 109.58 L324.25 107.85 L325.00 106.10 L325.75 104.31 L326.50 102.50 L327.25 100.64 L328.00 98.73 L328.75 96.77 L329.50 94.75 L330.25 92.67 L331.00 90.52 L331.75 88.30 L332.50 86.02 L333.25 83.66 L334.00 81.22 L334.75 78.71 L335.50 76.13 L336.25 73.47 L337.00 70.72 L337.75 67.88 L338.50 64.96 L339.25 61.92 L340.00 58.78 L340.75 55.52 L341.50 52.12 L342.25 48.58 L343.00 44.90 L343.75 41.08 L344.50 37.13 L345.25 33.05 L346.00 28.88 L346.75 24.63 L347.50 20.35" stroke="#00aa00" stroke-width="2.05"/>
</g>
<g fill="none" stroke="#000" stroke-width="1">
<rect x="47.5" y="20.35" width="300.0" height="240.00"/>
<path d="M77.50 260.35 v-4.7 M77.50 20.350000000000023 v4.7 M47.5 236.35 h4.7 M347.5 236.35 h-4.7 M107.50 260.35 v-9.1 M107.50 20.350000000000023 v9.1 M47.5 212.35 h9.1 M347.5 212.35 h-9.1 M137.50 260.35 v-4.7 M137.50 20.350000000000023 v4.7 M47.5 188.35 h4.7 M347.5 188.35 h-4.7 M167.50 260.35 v-9.1 M167.50 20.350000000000023 v9.1 M47.5 164.35 h9.1 M347.5 164.35 h-9.1 M197.50 260.35 v-4.7 M197.50 20.350000000000023 v4.7 M47.5 140.35 h4.7 M347.5 140.35 h-4.7 M227.50 260.35 v-9.1 M227.50 20.350000000000023 v9.1 M47.5 116.35 h9.1 M347.5 116.35 h-9.1 M257.50 260.35 v-4.7 M257.50 20.350000000000023 v4.7 M47.5 92.35 h4.7 M347.5 92.35 h-4.7 M287.50 260.35 v-9.1 M287.50 20.350000000000023 v9.1 M47.5 68.35 h9.1 M347.5 68.35 h-9.1 M317.50 260.35 v-4.7 M317.50 20.350000000000023 v4.7 M47.5 44.35 h4.7 M347.5 44.35 h-4.7"/>
</g>
<g font-size="18px" fill="#000">
<text transform="translate(47.50 279.3) scale(0.965 1.01)" text-anchor="middle">0.</text>
<text transform="translate(107.50 279.3) scale(0.965 1.01)" text-anchor="middle">0.2</text>
<text transform="translate(167.50 279.3) scale(0.965 1.01)" text-anchor="middle">0.4</text>
<text transform="translate(227.50 279.3) scale(0.965 1.01)" text-anchor="middle">0.6</text>
<text transform="translate(287.50 279.3) scale(0.965 1.01)" text-anchor="middle">0.8</text>
<text transform="translate(347.50 279.3) scale(0.965 1.01)" text-anchor="middle">1.</text>
<text transform="translate(44.9 218.85) scale(0.97 1.03)" text-anchor="end">0.2</text>
<text transform="translate(44.9 170.85) scale(0.97 1.03)" text-anchor="end">0.4</text>
<text transform="translate(44.9 122.85) scale(0.97 1.03)" text-anchor="end">0.6</text>
<text transform="translate(44.9 74.85) scale(0.97 1.03)" text-anchor="end">0.8</text>
<text transform="translate(44.9 26.85) scale(0.97 1.03)" text-anchor="end">1.</text>
</g>
<text x="197.7" y="302" font-size="16px" text-anchor="middle">Quark Efficiency</text>
<text transform="translate(14 140.3) rotate(-90)" font-size="16px" text-anchor="middle">Gluon Mistag</text>
<text x="62.8" y="47.5" font-size="15.8px" font-weight="bold">Quark vs. Gluon</text>
<text x="62.8" y="64.6" font-size="12.5px">Pythia 8.219, R=0.6, p</text>
<text transform="translate(174.8 66.3) scale(1 0.66)" font-size="10px">T</text>
<text x="181.9" y="64.6" font-size="12.5px"><tspan dy="1.5">&gt;</tspan><tspan dy="-1.5">500 GeV</tspan></text>
<g font-size="14px">
<text x="62.3" y="153.8"><tspan font-style="italic">x</tspan><tspan font-size="10px" dx="0.8" dy="-4.9">9/4</tspan></text>
<text x="63" y="170" font-style="italic">U</text>
<text x="74.3" y="163.4" font-size="9.7px">(0.2)</text>
<text x="73.6" y="173" font-size="10.5px">1</text>
<text x="63" y="187.8" font-style="italic">U</text>
<text x="74.3" y="181.2" font-size="9.7px">(0.2)</text>
<text x="73.4" y="190.8" font-size="10.5px">2</text>
<text x="63" y="206.3" font-style="italic">U</text>
<text x="74.3" y="199.5" font-size="9.7px">(0.2)</text>
<text x="73.4" y="209.3" font-size="10.5px">3</text>
<text x="63" y="222.5">Mult.</text>
</g>
<g fill="none">
<path d="M98.5 149.3 H125.3" stroke="#808080" stroke-width="1.7" stroke-dasharray="5.1 2.07"/>
<path d="M98.5 165.8 H125.3" stroke="#ff0000" stroke-width="1.75"/>
<path d="M98.5 184 H125.3" stroke="#0000ff" stroke-width="1.75"/>
<path d="M98.5 202.3 H125.3" stroke="#00aa00" stroke-width="1.75"/>
<path d="M98.5 218.3 H125.3" stroke="#ff8080" stroke-width="1.7" stroke-dasharray="5.1 2.07"/>
</g>
</svg>
</body></html>
